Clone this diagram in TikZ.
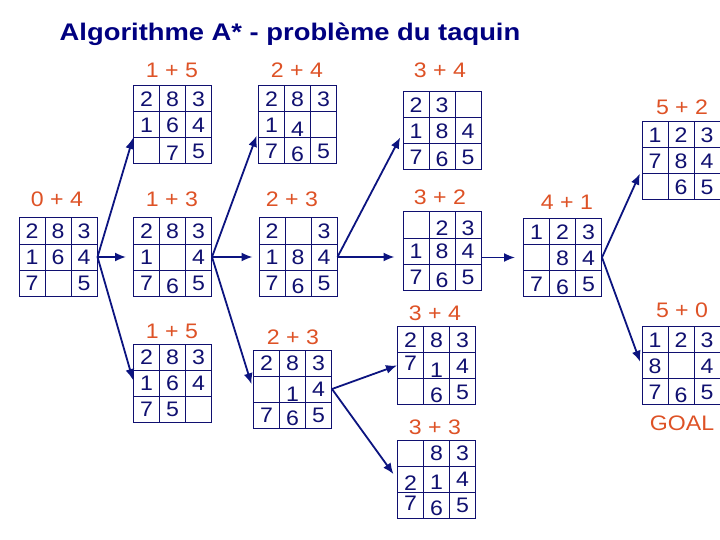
\documentclass[tikz,border=0pt]{standalone}
\usepackage{fontspec}
\setmainfont{Liberation Sans}
\newfontfamily\widefont[FakeStretch=1.1]{Liberation Sans}
\usetikzlibrary{matrix,arrows.meta,calc}
\definecolor{navy}{RGB}{16,16,112}
\definecolor{titleblue}{RGB}{0,0,128}
\definecolor{lblorange}{RGB}{222,82,38}
\definecolor{arrowblue}{RGB}{12,20,128}
\newcommand{\dgdn}[2][3bp]{\raisebox{-#1}{#2}}
\newcommand{\dgup}[2][3bp]{\raisebox{#1}{#2}}
\tikzset{
  cell/.style={draw=navy, line width=1bp, minimum width=26bp, minimum height=26bp,
    inner sep=0pt, outer sep=0pt, anchor=center, text height=15bp, text depth=0pt,
    font=\widefont\fontsize{21bp}{23bp}\selectfont, text=navy},
  board/.style={matrix of nodes, nodes in empty cells, row sep=-1bp, column sep=-1bp,
    inner sep=0pt, outer sep=0pt, nodes={cell}},
  lbl/.style={text=lblorange, font=\widefont\fontsize{21bp}{24bp}\selectfont, inner sep=0pt},
  arr/.style={draw=arrowblue, line width=1.8bp, -{Latex[length=11bp,width=9bp]}}
}
\begin{document}
\begin{tikzpicture}[x=1bp,y=-1bp]
\fill[white] (0,0) rectangle (720,540);
\useasboundingbox (0,0) rectangle (720,540);

\node[text=titleblue, inner sep=0pt] (title) at (290,34)
  {\scalebox{1.14}[1]{\fontsize{24bp}{28bp}\selectfont\bfseries Algorithme A* - problème du taquin}};

% boards
\matrix (s04) [board] at (58,257) {2 & 8 & 3\\ 1 & 6 & 4\\ 7 & & 5\\};
\matrix (t15) [board] at (172.5,125) {2 & 8 & 3\\ 1 & 6 & 4\\ & \dgdn[2bp]{7} & 5\\};
\matrix (m13) [board] at (172.5,257) {2 & 8 & 3\\ 1 & & 4\\ 7 & \dgdn{6} & 5\\};
\matrix (b15) [board] at (172.5,383) {2 & 8 & 3\\ 1 & 6 & 4\\ 7 & 5 & \\};
\matrix (t24) [board] at (297.5,125) {2 & 8 & 3\\ 1 & \dgdn[4bp]{4} & \\ 7 & \dgdn{6} & 5\\};
\matrix (m23) [board] at (298,257) {2 & & 3\\ 1 & 8 & 4\\ 7 & \dgdn{6} & 5\\};
\matrix (b23) [board] at (292.5,389) {2 & 8 & 3\\ & \dgdn[5bp]{1} & 4\\ 7 & \dgdn{6} & 5\\};
\matrix (t34) [board] at (442,131) {2 & 3 & \\ 1 & 8 & 4\\ 7 & \dgdn[2bp]{6} & 5\\};
\matrix (m32) [board] at (442,251) { & \dgdn[3bp]{2} & \dgdn[3bp]{3}\\ 1 & 8 & 4\\ 7 & \dgdn{6} & 5\\};
\matrix (l34) [board] at (436.5,365.5) {2 & 8 & 3\\ \dgup{7} & \dgdn[4bp]{1} & 4\\ & \dgdn{6} & 5\\};
\matrix (l33) [board] at (436.5,479) { & 8 & 3\\ \dgdn[4bp]{2} & \dgdn[3bp]{1} & 4\\ \dgup[2bp]{7} & \dgdn{6} & 5\\};
\matrix (m41) [board] at (562.5,257.5) {1 & 2 & 3\\ & 8 & 4\\ 7 & \dgdn{6} & 5\\};
\matrix (t52) [board] at (681,161) {1 & 2 & 3\\ 7 & 8 & 4\\ & 6 & 5\\};
\matrix (g50) [board] at (681,365.5) {1 & 2 & 3\\ 8 & & 4\\ 7 & \dgdn{6} & 5\\};

% labels
\node[lbl] (ls04) at (57,199) {0 + 4};
\node[lbl] (lt15) at (172,70) {1 + 5};
\node[lbl] (lm13) at (172,199) {1 + 3};
\node[lbl] (lb15) at (172,331) {1 + 5};
\node[lbl] (lt24) at (297,70) {2 + 4};
\node[lbl] (lm23) at (292,199) {2 + 3};
\node[lbl] (lb23) at (293,337) {2 + 3};
\node[lbl] (lt34) at (440,70) {3 + 4};
\node[lbl] (lm32) at (440,197) {3 + 2};
\node[lbl] (ll34) at (435,313) {3 + 4};
\node[lbl] (ll33) at (435,427) {3 + 3};
\node[lbl] (lm41) at (567,202) {4 + 1};
\node[lbl] (lt52) at (682,107) {5 + 2};
\node[lbl] (lg50) at (682,310) {5 + 0};
\node[lbl] (goal) at (682,423) {GOAL};

% arrows
\draw[arr] (s04.east) -- ([yshift=-13bp]t15.west);
\draw[arr, shorten >=7bp] (s04.east) -- (m13.west);
\draw[arr] (s04.east) -- ([yshift=3bp]b15.west);
\draw[arr, shorten >=4bp] (m13.east) -- ([yshift=-7bp]t24.west);
\draw[arr, shorten >=6bp] (m13.east) -- (m23.west);
\draw[arr, shorten >=5bp] (m13.east) -- (b23.west);
\draw[arr, shorten >=5bp] (m23.east) -- ([yshift=-2bp]t34.west);
\draw[arr, shorten >=8bp] (m23.east) -- (m23.east -| m32.west);
\draw[arr] (b23.east) -- (l34.west);
\draw[arr, shorten >=6bp] (b23.east) -- (l33.west);
\draw[arr, shorten >=8bp] (m41.west -| m32.east) -- (m41.west);
\draw[arr, shorten >=4bp] (m41.east) -- ([yshift=-9bp]t52.west);
\draw[arr, shorten >=4bp] (m41.east) -- (g50.west);
\end{tikzpicture}
\end{document}
